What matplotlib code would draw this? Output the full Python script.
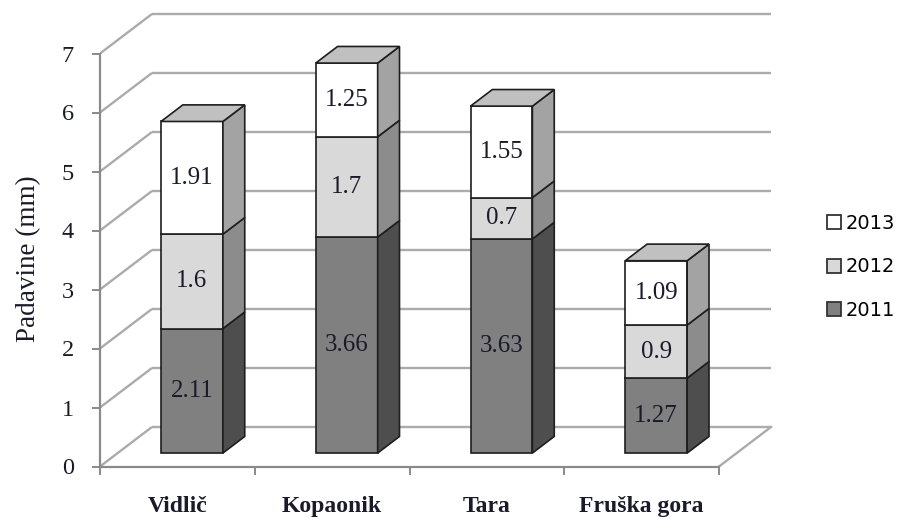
import matplotlib
matplotlib.use("Agg")
import matplotlib.pyplot as plt
from matplotlib.patches import Polygon, Patch

# ---- data ----
categories = ["Vidlič", "Kopaonik", "Tara", "Fruška gora"]
series_names = ["2011", "2012", "2013"]
v2011 = [2.11, 3.66, 3.63, 1.27]
v2012 = [1.6, 1.7, 0.7, 0.9]
v2013 = [1.91, 1.25, 1.55, 1.09]
series_values = [v2011, v2012, v2013]
y_ticks = [0, 1, 2, 3, 4, 5, 6, 7]
y_label = "Padavine (mm)"

# ---- styling ----
front_colors = ["#808080", "#d9d9d9", "#ffffff"]
side_colors = ["#4e4e4e", "#8c8c8c", "#a3a3a3"]
top_color = "#c0c0c0"
edge = "#1e1e1e"
grid_c = "#ababab"
axis_c = "#8a8a8a"

# pseudo-3D projection (depth 0..1 -> offset in data units)
DX, DY = 0.336, 0.67
d0, db = 0.34, 0.42          # bar front depth and bar depth
bw = 0.40                     # bar width
coff = 0.48                   # bar centre inside category

W, H = 904, 519
fig = plt.figure(figsize=(W / 100, H / 100), dpi=100)
xpx, ypx = 154.75, 59.0
xmax, ymax = 4.4, 7.75
ax = fig.add_axes([100 / W, (H - 466.5) / H, xmax * xpx / W, ymax * ypx / H])
ax.set_xlim(0, xmax)
ax.set_ylim(0, ymax)
ax.patch.set_alpha(0)

n = len(categories)
# walls: left wall diagonals and back-wall gridlines
for t in y_ticks:
    ax.plot([0, DX], [t, t + DY], color=grid_c, lw=1.7, zorder=1, solid_capstyle="butt")
    ax.plot([DX, n + DX], [t + DY, t + DY], color=grid_c, lw=1.7, zorder=1, solid_capstyle="butt")
# floor right edge
ax.plot([n, n + DX], [0, DY], color=grid_c, lw=1.7, zorder=1)

# axes spines
for s in ["top", "right"]:
    ax.spines[s].set_visible(False)
ax.spines["left"].set_bounds(0, y_ticks[-1])
ax.spines["bottom"].set_bounds(0, n)
for s in ["left", "bottom"]:
    ax.spines[s].set_color(axis_c)
    ax.spines[s].set_linewidth(1.6)
    ax.spines[s].set_zorder(2)

ax.set_yticks(y_ticks)
ax.set_yticklabels([str(t) for t in y_ticks], fontfamily="Liberation Serif", fontsize=17.5,
                   color="#1a1a2a")
ax.tick_params(axis="y", direction="out", length=5.8, width=1.4, color=axis_c, pad=13)
ax.set_xticks(range(n + 1))
ax.set_xticklabels([""] * (n + 1))
ax.tick_params(axis="x", which="major", direction="out", length=5.8, width=1.4, color=axis_c)
ax.set_xticks([i + 0.5 for i in range(n)], minor=True)
ax.set_xticklabels(categories, minor=True, fontfamily="Liberation Serif",
                   fontsize=17, fontweight="bold", color="#1a1a2a")
ax.tick_params(axis="x", which="minor", length=0, pad=21)

# stacked pseudo-3D bars
bottoms = [0.0] * n
for si, vals in enumerate(series_values):
    xs = [i + coff + d0 * DX for i in range(n)]
    bases = [b + d0 * DY for b in bottoms]
    ax.bar(xs, vals, width=bw, bottom=bases, color=front_colors[si],
           edgecolor=edge, linewidth=1.2, zorder=3)
    for i in range(n):
        xl = xs[i] - bw / 2
        xr = xs[i] + bw / 2
        yb = bases[i]
        yt = bases[i] + vals[i]
        side = Polygon([(xr, yb), (xr + db * DX, yb + db * DY),
                        (xr + db * DX, yt + db * DY), (xr, yt)],
                       closed=True, facecolor=side_colors[si], edgecolor=edge,
                       linewidth=1.2, zorder=3)
        ax.add_patch(side)
        if si == len(series_values) - 1:
            top = Polygon([(xl, yt), (xl + db * DX, yt + db * DY),
                           (xr + db * DX, yt + db * DY), (xr, yt)],
                          closed=True, facecolor=top_color, edgecolor=edge,
                          linewidth=1.2, zorder=3)
            ax.add_patch(top)
        ax.text(xs[i], yb + vals[i] / 2, f"{vals[i]:g}", ha="center", va="center",
                fontfamily="Liberation Serif", fontsize=18, color="#1a1a2a", zorder=4)
    bottoms = [b + v for b, v in zip(bottoms, vals)]

# y label
fig.text(29 / W, 1 - 259 / H, y_label, rotation=90, ha="center", va="center",
         fontfamily="Liberation Serif", fontsize=19.5, color="#1a1a2a")

# legend (reverse order, 2013 on top)
handles = [Patch(facecolor=front_colors[i], edgecolor="#333333", linewidth=1.3,
                 label=series_names[i]) for i in range(len(series_names) - 1, -1, -1)]
fig.legend(handles=handles, loc="center left", bbox_to_anchor=(827 / W, 1 - 267 / H),
           frameon=False, prop={"family": "DejaVu Sans", "size": 14},
           handlelength=0.72, handleheight=0.72, handletextpad=0.25,
           labelspacing=1.25, borderpad=0, borderaxespad=0)

fig.savefig("out.png", dpi=100)
